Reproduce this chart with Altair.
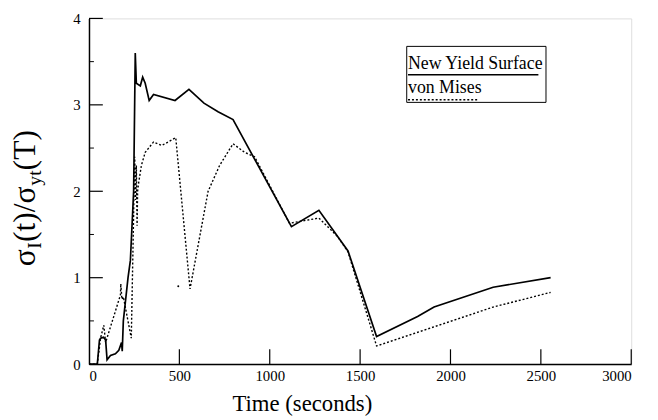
import altair as alt
import pandas as pd

# ---- data ----
ny_t = [0, 46, 58, 64, 80, 92, 100, 119, 146, 165, 180, 184, 190, 216, 229, 247, 256, 262, 284, 297, 311, 333, 357, 476, 553, 636, 714, 797, 1120, 1272, 1433, 1591, 1818, 1909, 2236, 2554]
ny_v = [0, 0, 0.28, 0.30, 0.31, 0.28, 0.05, 0.10, 0.12, 0.16, 0.25, 0.15, 0.5, 1.0, 1.2, 2.0, 3.6, 3.25, 3.22, 3.32, 3.25, 3.05, 3.12, 3.05, 3.18, 3.02, 2.92, 2.83, 1.59, 1.78, 1.31, 0.32, 0.55, 0.66, 0.89, 1.0]

vm_t = [0, 46, 64, 82, 92, 174, 176, 182, 190, 234, 253, 258, 262, 266, 269, 275, 290, 311, 357, 403, 480, 559, 659, 723, 797, 861, 916, 1109, 1272, 1374, 1433, 1591, 2236, 2554]
vm_v = [0, 0, 0.3, 0.45, 0.25, 0.8, 0.93, 0.75, 0.78, 0.3, 2.4, 1.9, 2.3, 1.6, 2.0, 2.1, 2.3, 2.45, 2.57, 2.53, 2.62, 0.87, 2.0, 2.3, 2.55, 2.45, 2.4, 1.63, 1.69, 1.48, 1.3, 0.21, 0.66, 0.83]

stray_t = [494]
stray_v = [0.9]

series_names = ["New Yield Surface", "von Mises"]
x_tick_values = [0, 500, 1000, 1500, 2000, 2500, 3000]
y_tick_values = [0, 1, 2, 3, 4]
x_inner_ticks = [500, 1000, 1500, 2000, 2500, 3000]
y_major_ticks = [1, 2, 3, 4]
y_minor_ticks = [0.5, 1.5, 2.5, 3.5]
x_title = "Time (seconds)"
y_title_parts = ["σ", "I", "(t)/σ", "yt", "(T)"]

SERIF = "Liberation Serif"
W, H = 549, 350

xs = alt.Scale(domain=[0, 3000], nice=False)
ys = alt.Scale(domain=[0, 4], nice=False)

ax_common = dict(ticks=False, grid=False, labelFont=SERIF, labelFontSize=15, format="d",
                 labelColor="black", domainColor="black", domainWidth=1.5, title=None)

df_ny = pd.DataFrame({"t": ny_t, "v": ny_v})
df_vm = pd.DataFrame({"t": vm_t, "v": vm_v})

solid = alt.Chart(df_ny).mark_line(color="black", strokeWidth=1.7).encode(
    x=alt.X("t:Q", scale=xs, axis=alt.Axis(values=x_tick_values, labelPadding=5, **ax_common)),
    y=alt.Y("v:Q", scale=ys, axis=alt.Axis(values=y_tick_values, labelPadding=9, **ax_common)),
)
dotted = alt.Chart(df_vm).mark_line(color="black", strokeWidth=1.4, strokeDash=[2, 2]).encode(
    x=alt.X("t:Q", scale=xs), y=alt.Y("v:Q", scale=ys)
)
stray = alt.Chart(pd.DataFrame({"t": stray_t, "v": stray_v})).mark_point(
    filled=True, color="black", size=4, opacity=1
).encode(x=alt.X("t:Q", scale=xs), y=alt.Y("v:Q", scale=ys))

xt = alt.Chart(pd.DataFrame({"t": x_inner_ticks})).mark_rule(color="black", strokeWidth=1.2).encode(
    x=alt.X("t:Q", scale=xs), y=alt.value(H), y2=alt.value(H - 15)
)
ytM = alt.Chart(pd.DataFrame({"v": y_major_ticks})).mark_rule(color="black", strokeWidth=1.2).encode(
    y=alt.Y("v:Q", scale=ys), x=alt.value(0), x2=alt.value(14)
)
ytm = alt.Chart(pd.DataFrame({"v": y_minor_ticks})).mark_rule(color="black", strokeWidth=1).encode(
    y=alt.Y("v:Q", scale=ys), x=alt.value(0), x2=alt.value(5)
)

one = pd.DataFrame({"a": [0]})

# legend box
box = alt.Chart(one).mark_rect(fill="white", stroke="black", strokeWidth=1).encode(
    x=alt.value(321.7), x2=alt.value(462.7), y=alt.value(28.3), y2=alt.value(85)
)
lab1 = alt.Chart(one).mark_text(align="left", baseline="alphabetic", font=SERIF, fontSize=18, color="black").encode(
    x=alt.value(323), y=alt.value(51), text=alt.value(series_names[0])
)
lab2 = alt.Chart(one).mark_text(align="left", baseline="alphabetic", font=SERIF, fontSize=18, color="black").encode(
    x=alt.value(323), y=alt.value(75.7), text=alt.value(series_names[1])
)
sw1 = alt.Chart(one).mark_rule(color="black", strokeWidth=1.7).encode(
    x=alt.value(323), x2=alt.value(455), y=alt.value(57)
)
sw2 = alt.Chart(one).mark_rule(color="black", strokeWidth=1.4, strokeDash=[2, 2]).encode(
    x=alt.value(323), x2=alt.value(394), y=alt.value(82.3)
)

# x title
xtitle = alt.Chart(one).mark_text(align="center", baseline="alphabetic", font=SERIF, fontSize=23, color="black").encode(
    x=alt.value(216), y=alt.value(397), text=alt.value(x_title)
)

# y title composed of pieces (rotated, reading bottom to top)
big, small = 32, 20
widths = [0.56 * big, 0.333 * small, (0.333 + 0.278 + 0.333 + 0.278 + 0.56) * big, (0.5 + 0.278) * small, 1.277 * big]
sizes = [big, small, big, small, big]
offs = [0, 6, 0, 6, 0]
total = sum(widths)
start = 182 + total / 2
ylayers = []
pos = start
for part, w, s, o in zip(y_title_parts, widths, sizes, offs):
    ylayers.append(
        alt.Chart(one).mark_text(align="left", baseline="alphabetic", font=SERIF, fontSize=s, angle=270, color="black").encode(
            x=alt.value(-55 + o), y=alt.value(pos), text=alt.value(part)
        )
    )
    pos -= w

chart = alt.layer(dotted, solid, stray, xt, ytM, ytm, box, sw1, sw2, lab1, lab2, xtitle, *ylayers).properties(
    width=W, height=H,
    autosize=alt.AutoSizeParams(type="none"),
    padding={"left": 82, "top": 8, "right": 19, "bottom": 52},
).configure_view(stroke=None).configure(background="white")

chart.save("out.html", embed_options={"renderer": "svg", "actions": False})
